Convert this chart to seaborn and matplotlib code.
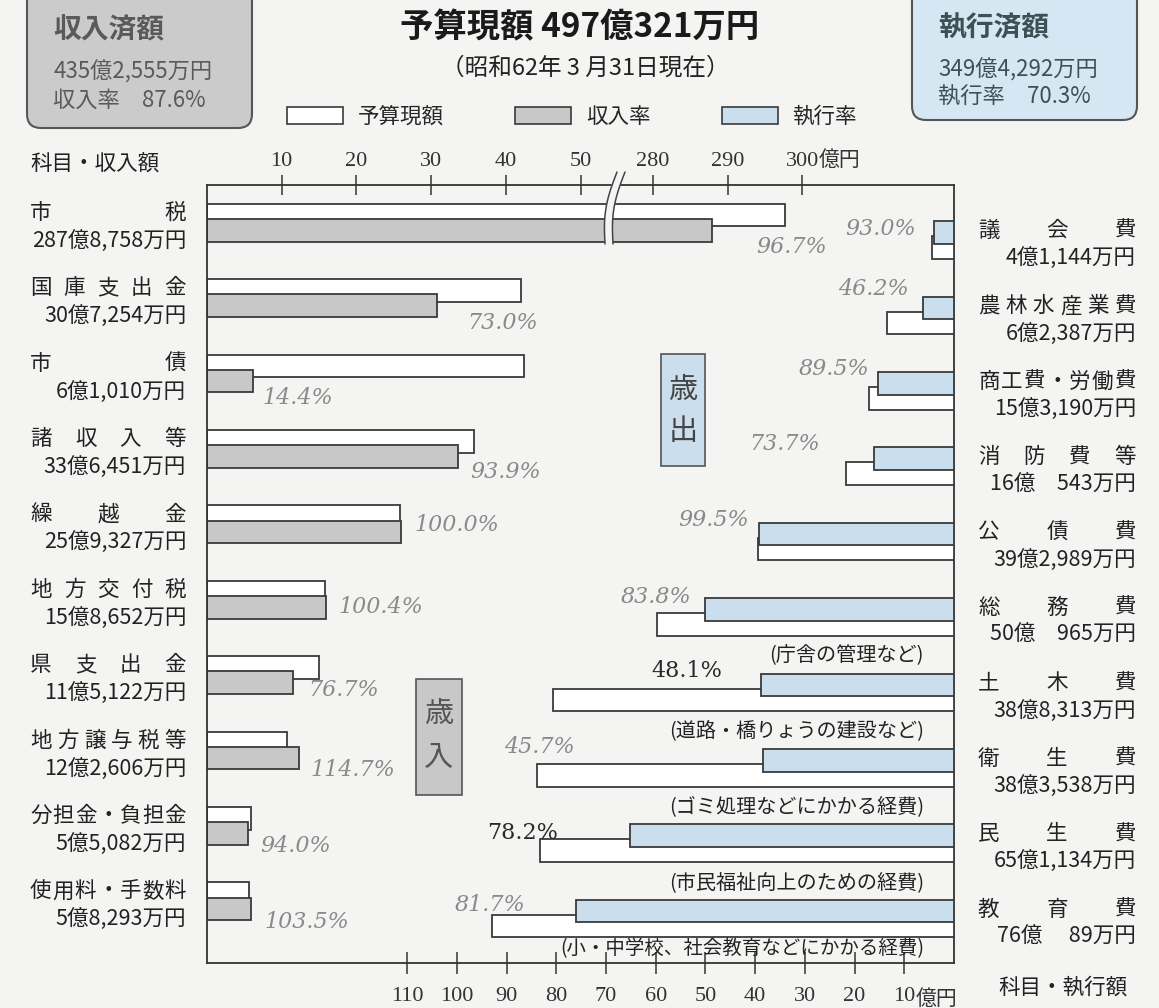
import numpy as np
import matplotlib
matplotlib.use('Agg')
import matplotlib.pyplot as plt
import matplotlib.transforms as mtransforms
from matplotlib.patches import FancyBboxPatch, Rectangle, Patch
from matplotlib.lines import Line2D
import seaborn as sns

# ---- 歳入 (revenue) ----
rev_items = ['市税', '国庫支出金', '市債', '諸収入等', '繰越金', '地方交付税',
             '県支出金', '地方譲与税等', '分担金・負担金', '使用料・手数料']
rev_amount_text = ['287億8,758万円', '30億7,254万円', '6億1,010万円', '33億6,451万円',
                   '25億9,327万円', '15億8,652万円', '11億5,122万円', '12億2,606万円',
                   '5億5,082万円', '5億8,293万円']
rev_received = [287.88, 30.73, 6.10, 33.65, 25.93, 15.87, 11.51, 12.26, 5.51, 5.83]
rev_budget = [297.7, 42.1, 42.4, 35.8, 25.9, 15.8, 15.0, 10.7, 5.9, 5.6]
rev_rate = [96.7, 73.0, 14.4, 93.9, 100.0, 100.4, 76.7, 114.7, 94.0, 103.5]

# ---- 歳出 (expenditure) ----
exp_items = ['議会費', '農林水産業費', '商工費・労働費', '消防費等', '公債費',
             '総務費', '土木費', '衛生費', '民生費', '教育費']
exp_amount_text = ['4億1,144万円', '6億2,387万円', '15億3,190万円', '16億　543万円',
                   '39億2,989万円', '50億　965万円', '38億8,313万円', '38億3,538万円',
                   '65億1,134万円', '76億　 89万円']
exp_spent = [4.11, 6.24, 15.32, 16.05, 39.30, 50.10, 38.83, 38.35, 65.11, 76.01]
exp_budget = [4.42, 13.50, 17.12, 21.78, 39.50, 59.78, 80.73, 83.92, 83.27, 93.03]
exp_rate = [93.0, 46.2, 89.5, 73.7, 99.5, 83.8, 48.1, 45.7, 78.2, 81.7]
exp_notes = ['', '', '', '', '', '(庁舎の管理など)', '(道路・橋りょうの建設など)',
             '(ゴミ処理などにかかる経費)', '(市民福祉向上のための経費)',
             '(小・中学校、社会教育などにかかる経費)']

rev_ticks = [10, 20, 30, 40, 50, 280, 290, 300]
rev_tick_labels = ['10', '20', '30', '40', '50', '280', '290', '300']
exp_ticks = [110, 100, 90, 80, 70, 60, 50, 40, 30, 20, 10]
exp_tick_labels = ['110', '100', '90', '80', '70', '60', '50', '40', '30', '20', '10']

# label nudges in pixels (x right, y down)
rev_lbl_dx = [44, 31, 10, 12, 14, 13, 15, 12, 12, 14]
rev_lbl_dy = [17, 17, 17, 16, -7, 0, 7, 12, 13, 13]
exp_lbl_dx = [-16, 22, 0, -26, -9, 34, 169, 38, 18, 34]
exp_lbl_dy = [-4, -19, -14, -15, -14, -13, -14, -13, -3, -6]
exp_lbl_dark = [False, False, False, False, False, False, True, False, True, False]
note_dy = [0, 0, 0, 0, 0, 46, 46, 46, 47, 38]

W, H = 1159, 1008
GRAY = '#c8c8c8'
BLUE = '#cadeed'
EDGE = '#3a3a3a'
BG = '#f4f4f3'
PCT = '#8a8a8a'

sns.set_theme(style='white')
plt.rcParams['font.family'] = ['Noto Sans CJK JP', 'DejaVu Sans']
plt.rcParams['axes.edgecolor'] = '#333333'
plt.rcParams['axes.linewidth'] = 1.3

fig = plt.figure(figsize=(W / 100, H / 100), dpi=100, facecolor=BG)
px = mtransforms.Affine2D().scale(1 / W, -1 / H).translate(0, 1) + fig.transFigure

ax = fig.add_axes([207 / W, 1 - 963 / H, 747 / W, 778 / H], facecolor=BG)
ax2 = ax.twiny()

# broken axis for revenue: 0-54.5 then 274.8-
BREAK_LO, BREAK_HI = 54.5, 274.8
GAP = BREAK_HI - BREAK_LO


def fwd(v):
    v = np.asarray(v, dtype=float)
    return np.where(v <= BREAK_LO, v, np.where(v >= BREAK_HI, v - GAP, BREAK_LO))


def inv(e):
    e = np.asarray(e, dtype=float)
    return np.where(e <= BREAK_LO, e, e + GAP)


ax.set_xscale('function', functions=(fwd, inv))

rev_pos = np.arange(len(rev_items)) + 0.5
exp_pos = np.arange(len(exp_items)) + 0.73

bar_kw = dict(orient='y', native_scale=True, width=0.3, saturation=1,
              errorbar=None, edgecolor=EDGE, linewidth=1.3)
sns.barplot(x=rev_budget, y=rev_pos - 0.1, color='white', ax=ax, **bar_kw)
sns.barplot(x=rev_received, y=rev_pos + 0.1, color=GRAY, ax=ax, **bar_kw)
sns.barplot(x=exp_budget, y=exp_pos + 0.1, color='white', ax=ax2, **bar_kw)
sns.barplot(x=exp_spent, y=exp_pos - 0.1, color=BLUE, ax=ax2, **bar_kw)

ax.set_xlim(0, 320.3)
ax2.set_xlim(150.3, 0)
ax.set_ylim(778 / 75.4, 0)

# top axis (revenue)
ax.xaxis.tick_top()
ax.set_xticks(rev_ticks)
ax.set_xticklabels(rev_tick_labels, fontfamily='Liberation Serif', fontsize=16)
ax.tick_params(axis='x', top=True, labeltop=True, bottom=False, labelbottom=False,
               direction='inout', length=14, width=1.1, color='#333333',
               labelcolor='#333333', pad=3)
ax.tick_params(axis='y', left=False, right=False, labelleft=False, labelright=False)
ax.annotate('億円', xy=(300, 1), xycoords=mtransforms.blended_transform_factory(ax.transData, ax.transAxes),
            xytext=(12, 10), textcoords='offset points', ha='left', va='bottom',
            fontsize=15, color='#333333', annotation_clip=False)

# bottom axis (expenditure)
ax2.xaxis.tick_bottom()
ax2.set_xticks(exp_ticks)
ax2.set_xticklabels(exp_tick_labels, fontfamily='Liberation Serif', fontsize=16)
ax2.tick_params(axis='x', bottom=True, labelbottom=True, top=False, labeltop=False,
                direction='inout', length=16, width=1.1, color='#333333',
                labelcolor='#333333', pad=9)
ax2.annotate('億円', xy=(10, 0), xycoords=mtransforms.blended_transform_factory(ax2.transData, ax2.transAxes),
             xytext=(8, -26), textcoords='offset points', ha='left', va='center',
             fontsize=15, color='#333333', annotation_clip=False)
for s in ax2.spines.values():
    s.set_visible(False)
ax.set_xlabel('')
ax.set_ylabel('')
ax2.set_xlabel('')

# percent labels
for i, r in enumerate(rev_rate):
    ax.annotate(f'{r:.1f}%', xy=(rev_received[i], rev_pos[i] + 0.1),
                xytext=(rev_lbl_dx[i] * 0.72, -rev_lbl_dy[i] * 0.72), textcoords='offset points',
                ha='left', va='center', fontsize=16, fontfamily='DejaVu Serif',
                style='italic', color=PCT, annotation_clip=False)
for i, r in enumerate(exp_rate):
    ax2.annotate(f'{r:.1f}%', xy=(exp_budget[i], exp_pos[i] - 0.1),
                 xytext=(exp_lbl_dx[i] * 0.72, -exp_lbl_dy[i] * 0.72), textcoords='offset points',
                 ha='right', va='center', fontsize=16, fontfamily='DejaVu Serif',
                 style='normal' if exp_lbl_dark[i] else 'italic',
                 color='#2a2a2a' if exp_lbl_dark[i] else PCT, annotation_clip=False)
    if exp_notes[i]:
        ax2.annotate(exp_notes[i], xy=(0, exp_pos[i] - 0.1),
                     xytext=(-30 * 0.72, -note_dy[i] * 0.72), textcoords='offset points',
                     ha='right', va='center', fontsize=14.5 if i < 9 else 14, color='#222222',
                     annotation_clip=False)

# row labels on both sides
rows = mtransforms.blended_transform_factory(fig.transFigure, ax.transData)


def spread(text, x0, x1, y, size):
    em = size * 100 / 72
    xs = np.linspace(x0 + em / 2, x1 - em / 2, len(text))
    for ch, xc in zip(text, xs):
        fig.text(xc / W, y, ch, transform=rows, ha='center', va='center',
                 fontsize=size, color='#222222')


for i, name in enumerate(rev_items):
    spread(name, 30, 186, rev_pos[i] - 0.13, 15.5)
    fig.text(186 / W, rev_pos[i] + 0.24, rev_amount_text[i], transform=rows,
             ha='right', va='center', fontsize=15.5, color='#222222')
for i, name in enumerate(exp_items):
    spread(name, 978, 1136, exp_pos[i] - 0.12, 15.5)
    fig.text(1136 / W, exp_pos[i] + 0.24, exp_amount_text[i], transform=rows,
             ha='right', va='center', fontsize=15.5, color='#222222')

fig.text(95, 165, '科目・収入額', transform=px, ha='center', va='center', fontsize=15.5, color='#222222')
fig.text(1063, 988, '科目・執行額', transform=px, ha='center', va='center', fontsize=15.5, color='#222222')

# break mark on the top axis
t = np.linspace(0, 1, 60)
yb = 172 + 72 * t
xb = 621 - 12 * t - 5 * np.sin(np.pi * t)
fig.add_artist(Line2D(xb, yb, lw=6, color=BG, transform=px, solid_capstyle='butt'))
fig.add_artist(Line2D(xb - 4, yb, lw=1.1, color='#444444', transform=px))
fig.add_artist(Line2D(xb + 4, yb, lw=1.1, color='#444444', transform=px))

# 歳出 / 歳入 tags
fig.add_artist(Rectangle((661, 354), 44, 112, transform=px, facecolor=BLUE, edgecolor='#555555', lw=1.2))
fig.text(683, 390, '歳', transform=px, ha='center', va='center', fontsize=21, color='#444444')
fig.text(683, 432, '出', transform=px, ha='center', va='center', fontsize=21, color='#444444')
fig.add_artist(Rectangle((416, 679), 46, 116, transform=px, facecolor=GRAY, edgecolor='#555555', lw=1.2))
fig.text(439, 714, '歳', transform=px, ha='center', va='center', fontsize=21, color='#555555')
fig.text(439, 757, '入', transform=px, ha='center', va='center', fontsize=21, color='#555555')

# summary boxes
fig.add_artist(FancyBboxPatch((27, -20), 225, 148, boxstyle='round,pad=0,rounding_size=14',
                              transform=px, facecolor='#cbcbcb', edgecolor='#555555', lw=1.5))
fig.text(53, 30, '収入済額', transform=px, ha='left', va='center', fontsize=20,
         fontweight='bold', color='#5a5a5a')
fig.text(53, 72, '435億2,555万円', transform=px, ha='left', va='center', fontsize=16, color='#5a5a5a')
fig.text(53, 100, '収入率　87.6%', transform=px, ha='left', va='center', fontsize=16, color='#5a5a5a')

fig.add_artist(FancyBboxPatch((912, -20), 225, 140, boxstyle='round,pad=0,rounding_size=14',
                              transform=px, facecolor='#d6e6f2', edgecolor='#555555', lw=1.5))
fig.text(938, 28, '執行済額', transform=px, ha='left', va='center', fontsize=20,
         fontweight='bold', color='#3f5055')
fig.text(938, 70, '349億4,292万円', transform=px, ha='left', va='center', fontsize=16, color='#3f5055')
fig.text(938, 97, '執行率　70.3%', transform=px, ha='left', va='center', fontsize=16, color='#3f5055')

# titles
fig.text(580, 28, '予算現額 497億321万円', transform=px, ha='center', va='center',
         fontsize=24, fontweight='bold', color='#1a1a1a')
fig.text(585, 68, '（昭和62年 3 月31日現在）', transform=px, ha='center', va='center',
         fontsize=17, color='#222222')

handles = [Patch(facecolor='white', edgecolor=EDGE, lw=1.2),
           Patch(facecolor=GRAY, edgecolor=EDGE, lw=1.2),
           Patch(facecolor=BLUE, edgecolor=EDGE, lw=1.2)]
fig.legend(handles, ['予算現額', '収入率', '執行率'], loc='center',
           bbox_to_anchor=(572 / W, 1 - 117 / H), ncol=3, frameon=False, fontsize=15.5,
           handlelength=2.6, handleheight=0.8, handletextpad=0.7, columnspacing=3.3)

fig.savefig('out.png', dpi=100, facecolor=BG)
